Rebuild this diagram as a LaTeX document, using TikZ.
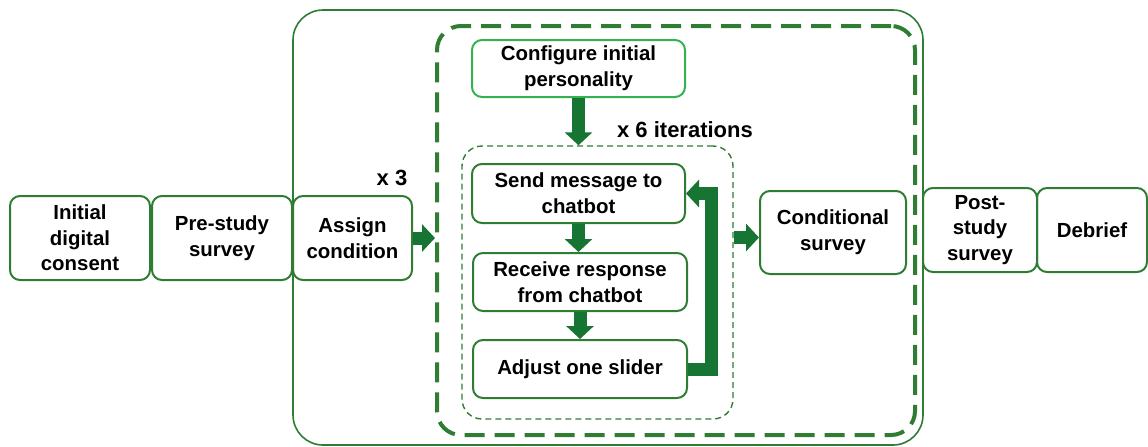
\documentclass[tikz,border=0pt]{standalone}
\usepackage{fontspec}
\setmainfont{Liberation Sans}
\usetikzlibrary{arrows.meta}
\definecolor{boxgreen}{RGB}{46,125,50}
\definecolor{lightgreen}{RGB}{52,178,82}
\definecolor{arrowgreen}{RGB}{22,117,50}
\begin{document}
\begin{tikzpicture}[x=0.5pt, y=-0.5pt,
			step box/.style = {draw=boxgreen, line width=1pt, rounded corners=5pt, align=center, inner sep=2pt,
				font=\fontsize{10.2}{12.8}\selectfont\bfseries},
			first box/.style = {step box, draw=lightgreen},
			frame/.style = {draw=boxgreen, inner sep=0pt},
			label/.style = {font=\fontsize{11}{13}\selectfont\bfseries},
			block arrow/.style = {draw=arrowgreen, line width=6.5pt, line join=miter,
				-{Triangle[width=13.5pt, length=6.5pt]}}]
			
			\useasboundingbox (0,0) rectangle (1148,446);
			
			\node[frame, line width=0.8pt, rounded corners=15pt, minimum width=315pt, minimum height=217.5pt] (study) at (608,227.5) {};
			\node[frame, line width=2pt, dash pattern=on 10pt off 5pt, rounded corners=12pt, minimum width=239pt, minimum height=204.5pt] (block) at (676,230.5) {};
			\node[frame, line width=0.7pt, dash pattern=on 3pt off 2pt, rounded corners=10pt, minimum width=135.5pt, minimum height=136.5pt] (loop) at (597.5,282.5) {};
			
			\node[step box, minimum width=70pt, minimum height=42pt] (consent) at (80,238) {Initial\\digital\\consent};
			\node[step box, minimum width=70pt, minimum height=42pt] (pre) at (222,238) {Pre-study\\survey};
			\node[step box, minimum width=59.5pt, minimum height=42pt] (assign) at (352.5,238) {Assign\\condition};
			\node[first box, minimum width=106.5pt, minimum height=28.5pt] (config) at (578.5,68.5) {Configure initial\\personality};
			\node[step box, minimum width=106.5pt, minimum height=29.5pt] (send) at (578.5,193.5) {Send message to\\chatbot};
			\node[step box, minimum width=107pt, minimum height=29pt] (receive) at (580,282) {Receive response\\from chatbot};
			\node[step box, minimum width=107pt, minimum height=29pt] (adjust) at (580,369) {Adjust one slider};
			\node[step box, minimum width=73pt, minimum height=41.5pt] (cond) at (833,232.5) {Conditional\\survey};
			\node[step box, minimum width=57pt, minimum height=42pt] (post) at (980,230) {Post-\\study\\survey};
			\node[step box, minimum width=55pt, minimum height=42pt] (debrief) at (1092,230) {Debrief};
			
			\node[label] (times3) at (392,178) {x 3};
			\node[label] (times6) at (685,130) {x 6 iterations};
			
			\draw[block arrow] (assign.east) -- (block.west |- assign.east);
			\draw[block arrow] (config.south) -- (config.south |- loop.north);
			\draw[block arrow] (send.south) -- (send.south |- receive.north);
			\draw[block arrow] (receive.south) -- (receive.south |- adjust.north);
			\draw[block arrow] (adjust.east) -- ++(23,0) |- (send.east);
			\draw[block arrow] ([yshift=-2.5pt]loop.east |- cond.west) -- ([yshift=-2.5pt]cond.west);
		\end{tikzpicture}
\end{document}
